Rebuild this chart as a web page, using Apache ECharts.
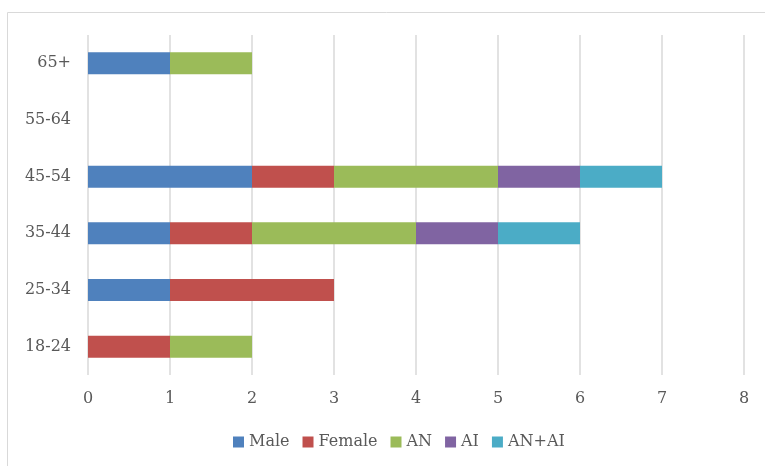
<!DOCTYPE html>
<html>
<head>
<meta charset="utf-8">
<script src="https://cdn.jsdelivr.net/npm/echarts@6/dist/echarts.min.js"></script>
<style>
  html, body { margin: 0; padding: 0; background: #fff; }
  #chart { width: 765px; height: 466px; }
</style>
</head>
<body>
<div id="chart"></div>
<script>
// age groups, bottom to top
var categories = ['18-24', '25-34', '35-44', '45-54', '55-64', '65+'];
var seriesNames = ['Male', 'Female', 'AN', 'AI', 'AN+AI'];
var male   = [0, 1, 1, 2, 0, 1];
var female = [1, 2, 1, 1, 0, 0];
var an     = [1, 0, 2, 2, 0, 1];
var ai     = [0, 0, 1, 1, 0, 0];
var anai   = [0, 0, 1, 1, 0, 0];
var xTicks = [0, 1, 2, 3, 4, 5, 6, 7, 8];

var colors = ['#4f81bd', '#c0504d', '#9bbb59', '#8064a2', '#4bacc6'];
var values = [male, female, an, ai, anai];
var font = 'DejaVu Serif';

var chart = echarts.init(document.getElementById('chart'));

var series = seriesNames.map(function (name, i) {
    return {
        name: name,
        type: 'bar',
        stack: 'total',
        barWidth: 22,
        itemStyle: { color: colors[i] },
        data: values[i]
    };
});

var option = {
    animation: false,
    color: colors,
    graphic: [{
        type: 'rect',
        shape: { x: 7.5, y: 12.5, width: 800, height: 500 },
        style: { fill: 'none', stroke: '#d9d9d9', lineWidth: 1 },
        silent: true
    }],
    grid: {
        left: 88,
        right: 21,
        top: 35,
        bottom: 91
    },
    legend: {
        bottom: 11,
        left: 228,
        itemWidth: 11,
        itemHeight: 11,
        itemGap: 13,
        itemTextGap: 4,
        icon: 'rect',
        textStyle: { fontFamily: font, fontSize: 16, color: '#595959' },
        data: seriesNames
    },
    xAxis: {
        type: 'value',
        min: xTicks[0],
        max: xTicks[xTicks.length - 1],
        interval: 1,
        axisLine: { show: false },
        axisTick: { show: false },
        axisLabel: { margin: 16, fontFamily: font, fontSize: 16, color: '#595959' },
        splitLine: { show: true, lineStyle: { color: '#d9d9d9', width: 1.5 } }
    },
    yAxis: {
        type: 'category',
        data: categories,
        axisLine: { show: false },
        axisTick: { show: false },
        axisLabel: { margin: 17, fontFamily: font, fontSize: 16, color: '#595959' }
    },
    series: series
};

chart.setOption(option);
</script>
</body>
</html>
